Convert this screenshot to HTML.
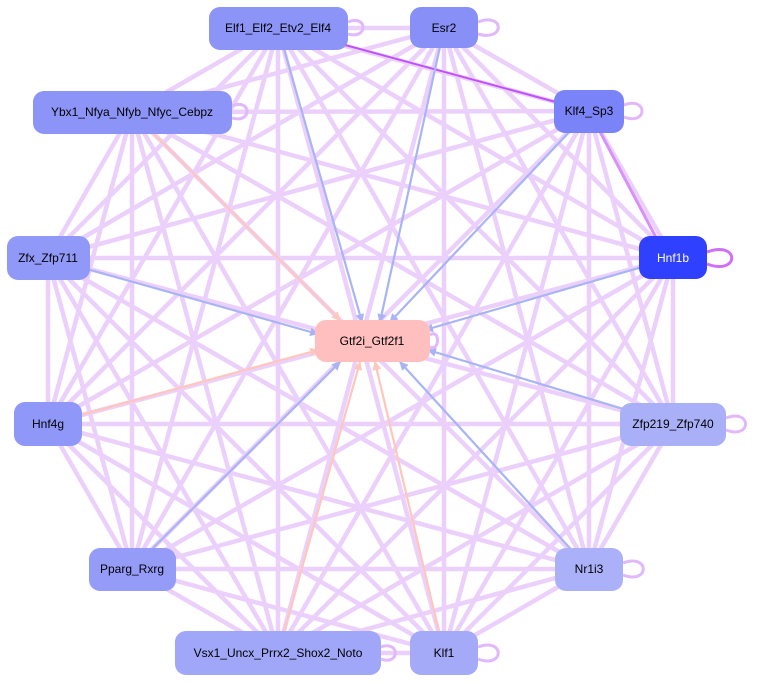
<!DOCTYPE html>
<html><head><meta charset="utf-8"><style>
html,body{margin:0;padding:0;background:#fff;}
svg{display:block;font-family:"Liberation Sans",Arial,sans-serif;}
</style></head><body>
<svg width="757" height="683" viewBox="0 0 757 683" xmlns="http://www.w3.org/2000/svg">
<defs>
<marker id="mb" viewBox="0 0 10 10" refX="9" refY="5" markerWidth="4" markerHeight="4" orient="auto"><path d="M0,0L10,5L0,10z" fill="#a8b4f4"/></marker>
<marker id="mp" viewBox="0 0 10 10" refX="9" refY="5" markerWidth="4" markerHeight="4" orient="auto"><path d="M0,0L10,5L0,10z" fill="#ffc6bc"/></marker>
</defs>
<g stroke="#ecd0fc" stroke-width="4.5" fill="none">
<path d="M278 28L444 28M278 28L132 112M278 28L589 111M278 28L48 258M278 28L673 258M278 28L48 424M278 28L673 424M278 28L132 569M278 28L589 569M278 28L278 653M278 28L444 653
M444 28L132 112M444 28L589 111M444 28L48 258M444 28L673 258M444 28L48 424M444 28L673 424M444 28L132 569M444 28L589 569M444 28L278 653M444 28L444 653
M132 112L589 111M132 112L48 258M132 112L673 258M132 112L48 424M132 112L673 424M132 112L132 569M132 112L589 569M132 112L278 653M132 112L444 653
M589 111L48 258M589 111L673 258M589 111L48 424M589 111L673 424M589 111L132 569M589 111L589 569M589 111L278 653M589 111L444 653
M48 258L673 258M48 258L48 424M48 258L673 424M48 258L132 569M48 258L589 569M48 258L278 653M48 258L444 653
M673 258L48 424M673 258L673 424M673 258L132 569M673 258L589 569M673 258L278 653M673 258L444 653
M48 424L673 424M48 424L132 569M48 424L589 569M48 424L278 653M48 424L444 653
M673 424L132 569M673 424L589 569M673 424L278 653M673 424L444 653
M132 569L589 569M132 569L278 653M132 569L444 653M589 569L278 653M589 569L444 653M278 653L444 653"/>
</g>
<line x1="589" y1="111" x2="345" y2="45" stroke="#c050ff" stroke-width="2"/>
<line x1="589" y1="111" x2="660" y2="245" stroke="#d890fb" stroke-width="3"/>
<g stroke-width="2.2">
<line x1="278" y1="28" x2="362" y2="322" stroke="#a8b4f4" marker-end="url(#mb)"/>
<line x1="444" y1="28" x2="380" y2="322" stroke="#a8b4f4" marker-end="url(#mb)"/>
<line x1="589" y1="111" x2="390" y2="322" stroke="#a8b4f4" marker-end="url(#mb)"/>
<line x1="673" y1="258" x2="425" y2="330" stroke="#a8b4f4" marker-end="url(#mb)"/>
<line x1="48" y1="258" x2="318" y2="334" stroke="#a8b4f4" marker-end="url(#mb)"/>
<line x1="673" y1="424" x2="428" y2="350" stroke="#a8b4f4" marker-end="url(#mb)"/>
<line x1="589" y1="569" x2="400" y2="362" stroke="#a8b4f4" marker-end="url(#mb)"/>
<line x1="444" y1="653" x2="375" y2="362" stroke="#ffc6bc" marker-end="url(#mp)"/>
<line x1="132" y1="569" x2="340" y2="362" stroke="#a8b4f4" marker-end="url(#mb)"/>
<line x1="132" y1="112" x2="340" y2="320" stroke="#ffc6bc" marker-end="url(#mp)"/>
<line x1="48" y1="424" x2="318" y2="350" stroke="#ffc6bc" marker-end="url(#mp)"/>
<line x1="278" y1="653" x2="360" y2="362" stroke="#ffc6bc" marker-end="url(#mp)"/>
</g>
<g fill="none" stroke="#e0b8fb" stroke-width="3">
<path d="M348 22C368 14 368 40 348 34"/>
<path d="M478 22C505 12 505 42 478 34"/>
<path d="M232 106C252 98 252 124 232 118"/>
<path d="M624 105C648 96 648 126 624 117"/>
<path d="M430 335C440 328 440 352 430 347"/>
<path d="M726 418C752 408 752 440 726 430"/>
<path d="M623 563C650 553 650 585 623 575"/>
<path d="M478 647C505 637 505 669 478 659"/>
<path d="M381 647C400 640 400 666 381 659"/>
<path d="M707 252C740 240 740 276 707 264" stroke="#d070f8"/>
</g>
<g font-size="12" text-anchor="middle">
<rect x="209" y="7" width="139" height="43" rx="11" fill="#8c94f8"/><text x="278" y="32">Elf1_Elf2_Etv2_Elf4</text>
<rect x="410" y="7" width="68" height="41" rx="11" fill="#8890f8"/><text x="444" y="32">Esr2</text>
<rect x="33" y="91" width="199" height="43" rx="11" fill="#8c94f8"/><text x="132" y="116">Ybx1_Nfya_Nfyb_Nfyc_Cebpz</text>
<rect x="554" y="90" width="70" height="43" rx="11" fill="#7b83f8"/><text x="589" y="115">Klf4_Sp3</text>
<rect x="7" y="236" width="83" height="44" rx="11" fill="#9098f8"/><text x="48" y="262">Zfx_Zfp711</text>
<rect x="639" y="236" width="68" height="43" rx="11" fill="#3040ff"/><text x="673" y="262" fill="#fff">Hnf1b</text>
<rect x="315" y="320" width="115" height="42" rx="11" fill="#ffbfbf"/><text x="372" y="345">Gtf2i_Gtf2f1</text>
<rect x="14" y="402" width="68" height="44" rx="11" fill="#8f97f8"/><text x="48" y="428">Hnf4g</text>
<rect x="620" y="403" width="106" height="43" rx="11" fill="#aab0f8"/><text x="673" y="428">Zfp219_Zfp740</text>
<rect x="89" y="548" width="87" height="43" rx="11" fill="#959cf8"/><text x="132" y="573">Pparg_Rxrg</text>
<rect x="555" y="548" width="68" height="43" rx="11" fill="#abb1f8"/><text x="589" y="573">Nr1i3</text>
<rect x="175" y="631" width="206" height="44" rx="11" fill="#a0a6f8"/><text x="278" y="657">Vsx1_Uncx_Prrx2_Shox2_Noto</text>
<rect x="410" y="631" width="68" height="44" rx="11" fill="#a4aaf8"/><text x="444" y="657">Klf1</text>
</g>
</svg>
</body></html>
